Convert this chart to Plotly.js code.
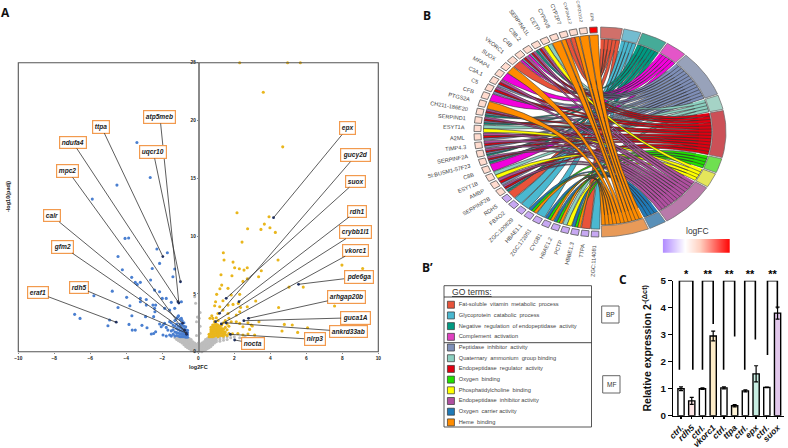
<!DOCTYPE html>
<html><head><meta charset="utf-8">
<script src="https://cdn.plot.ly/plotly-3.0.1.min.js"></script>
<style>html,body{margin:0;padding:0;background:#fff}#c{width:788px;height:448px}</style>
</head><body><div id="c"></div>
<script>
// ---------- Panel A data ----------
const bluePoints=[[-3.41,18.1],[-2.67,15.07],[-4.52,14.41],[-5.89,13.2],[-4.07,9.8],[-3.87,9.83],[-2.3,8.88],[-1.72,8.56],[-4.46,8.24],[-2.15,7.64],[-2.56,7.2],[-4.22,7.09],[-1.31,7.15],[-1.41,6.48],[-3.7,6.43],[-2.65,6.2],[-3.5,6.0],[-3.22,6.0],[-3.39,5.82],[-4.78,5.24],[-2.43,5.33],[-2.15,5.19],[-5.8,4.84],[-3.98,4.7],[-3.22,4.61],[-2.89,4.52],[-1.78,4.61],[-2.0,4.61],[-3.22,4.32],[-2.89,4.03],[-2.52,4.03],[-2.37,4.03],[-1.5,4.27],[-0.94,4.32],[-3.8,3.98],[-4.46,3.83],[-2.43,3.75],[-1.87,3.75],[-1.31,3.75],[-1.59,3.6],[-2.41,3.46],[-6.87,3.23],[-6.57,2.88],[-3.69,3.11],[-2.93,3.03],[-2.48,3.03],[-4.93,2.74],[-5.02,2.25],[-3.85,2.36],[-3.13,2.28],[-2.85,2.07],[-3.67,1.87],[-3.5,1.87],[-2.61,1.53],[-2.48,1.58],[-2.37,1.73],[-2.15,2.39],[-2.06,2.16],[-1.96,2.31],[-1.87,2.45],[-1.78,2.1],[-1.59,2.6],[-1.69,1.87],[-1.96,1.44],[-1.78,1.35],[-1.59,1.44],[-1.13,3.03],[-0.94,2.88],
[-0.6,1.25],[-0.6,1.45],[-0.6,1.65],[-0.6,1.85],[-0.7,1.25],[-0.7,1.45],[-0.7,1.65],[-0.7,1.9],[-0.7,2.15],[-0.8,1.3],[-0.8,1.5],[-0.8,1.7],[-0.8,1.95],[-0.8,2.2],[-0.8,2.5],[-0.9,1.3],[-0.9,1.5],[-0.9,1.75],[-0.9,2.0],[-0.9,2.3],[-0.9,2.7],[-1.0,1.3],[-1.0,1.55],[-1.0,1.8],[-1.0,2.1],[-1.0,2.4],[-1.0,2.8],[-1.1,1.35],[-1.1,1.6],[-1.1,1.9],[-1.1,2.2],[-1.1,3.1],[-1.2,1.4],[-1.2,1.65],[-1.2,2.0],[-1.2,2.4],[-1.2,2.9],[-1.3,1.35],[-1.3,1.7],[-1.3,2.2],[-1.3,2.7],[-1.4,1.5],[-1.4,1.9],[-1.4,2.3],[-1.5,1.35],[-1.5,1.8],[-1.5,2.5]];
const orangePoints=[[2.3,25],[4.96,25],[5.67,25],[3.61,22.45],[4.69,17.72],[2.15,12.02],[3.93,11.67],[3.67,11.04],[3.98,10.72],[2.74,10.63],[3.48,10.58],[4.28,10.32],[2.43,9.48],[1.39,8.56],[1.43,7.93],[1.93,7.75],[2.02,7.26],[2.28,7.18],[2.54,7.06],[2.72,7.26],[4.43,7.93],[7.98,7.49],[9.13,7.2],[1.26,6.66],[1.87,6.57],[3.5,7.0],[3.35,6.48],[2.72,6.31],[2.48,6.08],[1.3,5.76],[1.2,5.45],[1.65,5.48],[5.04,5.59],[5.83,5.59],[1.02,4.96],[1.83,4.9],[2.3,4.96],[3.19,4.38],[0.96,4.32],[1.37,4.41],[2.22,4.18],[1.65,4.03],[0.91,3.98],[1.93,4.09],[2.72,3.89],[4.46,3.83],[7.57,3.95],[2.35,3.83],[1.19,3.89],[2.3,3.46],[1.37,3.6],[1.65,3.31],[1.09,3.31],[0.81,2.88],[1.0,2.94],[2.11,3.17],[3.37,2.59],[1.83,2.59],[2.11,2.59],[2.3,2.45],[2.48,2.16],[2.76,2.51],[2.94,2.31],[3.0,2.22],[4.78,2.36],[5.22,2.31],[6.07,2.07],[4.65,1.79],[5.52,1.67],[2.85,1.93],[2.76,1.53],[3.13,1.44],[2.2,1.58],[2.48,1.44],
[0.6,1.3],[0.6,1.5],[0.7,1.3],[0.7,1.5],[0.7,1.7],[0.7,1.9],[0.7,2.1],[0.8,1.3],[0.8,1.5],[0.8,1.7],[0.8,1.9],[0.8,2.1],[0.8,2.3],[0.9,1.35],[0.9,1.55],[0.9,1.75],[0.9,1.95],[0.9,2.15],[0.9,2.35],[0.9,2.6],[1.0,1.4],[1.0,1.6],[1.0,1.8],[1.0,2.0],[1.0,2.2],[1.0,2.4],[1.1,1.3],[1.1,1.5],[1.1,1.7],[1.1,1.9],[1.1,2.1],[1.1,2.3],[1.1,2.7],[1.2,1.4],[1.2,1.6],[1.2,1.8],[1.2,2.0],[1.2,2.2],[1.3,1.4],[1.3,1.6],[1.3,1.8],[1.3,2.0],[1.3,2.3],[1.4,1.35],[1.4,1.55],[1.4,1.75],[1.4,1.95],[1.4,2.5],[1.5,1.5],[1.5,1.7],[1.5,2.1],[1.5,2.7],[1.6,1.4],[1.6,1.9],[1.6,2.4],[1.7,1.6],[1.7,2.2],[1.7,2.9],[0.65,2.9],[0.75,3.1],[1.9,1.55]];
const greyPoints=[[0,0],[0,0.15],[0,0.3],[0,0.45],[0,0.6],[0,0.75],[0.1,0.05],[0.1,0.2],[0.1,0.35],[0.1,0.5],[0.1,0.65],[-0.1,0.05],[-0.1,0.2],[-0.1,0.35],[-0.1,0.5],[-0.1,0.65],[0.2,0],[0.2,0.15],[0.2,0.3],[0.2,0.45],[0.2,0.6],[0.2,0.75],[-0.2,0],[-0.2,0.15],[-0.2,0.3],[-0.2,0.45],[-0.2,0.6],[-0.2,0.75],[0.3,0.1],[0.3,0.25],[0.3,0.4],[0.3,0.55],[0.3,0.7],[0.3,0.85],[-0.3,0.1],[-0.3,0.25],[-0.3,0.4],[-0.3,0.55],[-0.3,0.7],[-0.3,0.85],[0.4,0.15],[0.4,0.3],[0.4,0.45],[0.4,0.6],[0.4,0.75],[0.4,0.95],[0.4,1.05],[-0.4,0.15],[-0.4,0.3],[-0.4,0.45],[-0.4,0.6],[-0.4,0.75],[-0.4,0.95],[-0.4,1.05],[0.5,0.25],[0.5,0.4],[0.5,0.55],[0.5,0.7],[0.5,0.85],[0.5,1.0],[0.5,1.15],[-0.5,0.25],[-0.5,0.4],[-0.5,0.55],[-0.5,0.7],[-0.5,0.85],[-0.5,1.0],[-0.5,1.15],[0.6,0.35],[0.6,0.5],[0.6,0.65],[0.6,0.8],[0.6,0.95],[0.6,1.1],[-0.6,0.35],[-0.6,0.5],[-0.6,0.65],[-0.6,0.8],[-0.6,0.95],[-0.6,1.1],[0.7,0.45],[0.7,0.6],[0.7,0.75],[0.7,0.9],[0.7,1.05],[0.7,1.2],[-0.7,0.45],[-0.7,0.6],[-0.7,0.75],[-0.7,0.9],[-0.7,1.05],[-0.7,1.2],[0.8,0.6],[0.8,0.75],[0.8,0.9],[0.8,1.05],[0.8,1.2],[-0.8,0.6],[-0.8,0.75],[-0.8,0.9],[-0.8,1.05],[-0.8,1.2],[0.9,0.75],[0.9,0.9],[0.9,1.05],[0.9,1.2],[-0.9,0.75],[-0.9,0.9],[-0.9,1.05],[-0.9,1.2],[1.0,0.85],[1.0,1.0],[1.0,1.15],[-1.0,0.85],[-1.0,1.0],[-1.0,1.15],[-1.1,0.95],[-1.1,1.1],[-1.1,1.2],[-1.2,1.05],[-1.2,1.15],[-1.3,1.2],[1.2,0.9],[1.2,1.05],[1.2,1.2],[1.4,1.0],[1.4,1.2],[1.6,1.05],[1.6,1.3],[1.8,1.2],[1.8,1.45],[2.0,1.3],[2.3,1.2],[2.6,1.3],[-0.2,4.75],[-0.15,4.2],[-0.05,3.0],[0.05,2.9],[0.1,2.2],[-0.1,2.6],[0.1,3.4],[-0.1,1.4],[0.1,1.6]];
const geneLabels=["eraf1","rdh5","gfm2","calr","mpc2","ndufa4","ttpa","atp5meb","uqcr10","epx","gucy2d","suox","rdh1","crybb1l1","vkorc1","pde6ga","arhgap20b","guca1A","ankrd33ab","nlrp3","nocta"];
const labelX=[-8.91,-6.65,-7.52,-8.13,-7.24,-6.97,-5.39,-2.13,-2.5,8.28,8.76,8.76,8.81,8.76,8.76,8.9,8.24,8.76,8.35,6.46,3.03];
const labelY=[5.09,5.58,9.08,11.74,15.63,18.1,19.46,20.3,17.27,19.33,16.99,14.74,12.17,10.33,8.77,6.46,4.76,2.94,1.73,1.07,0.73];
const geneX=[-4.56,-0.67,-0.76,-0.87,-0.65,-1.13,-1.97,-1.08,-0.99,4.18,1.18,1.55,2.26,0.96,1.28,5.57,2.79,2.53,1.55,1.78,2.02];
const geneY=[2.55,1.62,1.86,2.47,1.5,4.32,8.23,4.21,6.05,11.59,3.32,4.62,4.33,2.6,2.4,5.83,2.89,2.68,2.5,1.5,1.01];
const aTicksX=[-10,-8,-6,-4,-2,0,2,4,6,8,10];
const aTicksY=[0,5,10,15,20,25];

// ---------- Panel B data ----------
const terms=["Fat-soluble  vitamin  metabolic  process","Glycoprotein  catabolic  process","Negative  regulation  of endopeptidase  activity","Complement  activation","Peptidase  inhibitor  activity","Quaternary  ammonium  group binding","Endopeptidase  regulator  activity","Oxygen  binding","Phosphatidylcholine  binding","Endopeptidase  inhibitor activity","Oxygen  carrier activity","Heme  binding"];
const genes=["ZGC:114081","TTPA","HBBE1.3","PCTP","HBAE1.2","CYGB1","ZGC:172051","HBAE1.1","ZGC:100829","FBXO2","RDH5","SERPINF2B","AMBP","ESYT1B","C8B","SI:BUSM1-57F23","SERPINF2A","TIMP4.3","A2ML","ESYT1A","SERPIND1","CH211-186E20","PTGS2A","CFB","C5","C3A.1","MFAP4","SUOX","VKORC1","C4B","C3B.2","SERPINA1L","CETP","CYP4V8","CYP2P7","CYP2AA1.2","CYP2X10.2","EPX"];
const geneLogFC=[-0.85,-0.85,-0.85,-0.85,-0.85,-0.85,-0.85,-0.85,-0.85,-0.85,-0.85,0.45,0.45,0.45,0.45,0.45,0.45,0.45,0.45,0.45,0.45,0.45,0.45,0.45,0.45,0.45,0.45,0.45,0.45,0.45,0.45,0.45,0.45,0.45,0.45,0.45,0.45,2.0];
// term indices linked to each gene, same order as genes
const geneTerms=[[1],[0],[11,7,10],[8,5],[11,7,10],[11,7,10],[1],[11,7,10],[1],[1],[0],[2,4,6,9],[4,6,9],[8,5],[3],[2,4,6,9],[2,4,6,9],[4,6,9],[4,6,9],[8,5],[2,4,6,9],[2,4,6,9],[11],[3],[4,6,9],[4,6,9],[3],[11],[0],[3,4,6,9],[3,4,6,9],[2,4,6,9],[8,5],[11],[11,0],[0,11],[11],[11]];
const colorbarLogFC=[-1,0,1,2];

// ---------- Panel C data ----------
const barLabels=["ctrl.","rdh5","ctrl.","vkorc1","ctrl.","ttpa","ctrl.","epx","ctrl.","suox"];
const barValues=[1.0,0.55,1.0,2.95,1.03,0.37,0.92,1.55,1.05,3.8];
const barErrors=[0.07,0.13,0.03,0.18,0.04,0.04,0.04,0.3,0.01,0.22];
const barStars=["*","**","**","**","**"];
const bracketFrom=[-0.15,2,3.97,5.94,8.06];
const bracketTo=[1.1,3,5,6.93,8.98];
const bracketFromLow=[1.7,1.7,1.7,1.7,2.25];
const bracketToLow=[1.7,3.4,2.93,2.82,3.95];

// ---------- style ----------
const W=788,H=448;
const hd=(a,b)=>[a/W,b/W];
const vd=(t,b)=>[1-b/H,1-t/H];
const px=x=>x/W, py=y=>1-y/H;
const SANS='"Liberation Sans",Arial,sans-serif';
const ribbonColors=["#e8533a","#4ab8d0","#009a82","#f200dc","#7f8fb8","#8cd0c0","#e00010","#22e000","#ffff00","#b050a0","#1f7ab8","#ff8c00"];
const ringColors=["#d0706a","#73bcd0","#45ab98","#e455c8","#98a2ba","#a5d3c6","#cc5057","#6fe050","#e5e55a","#b97aaa","#5a90b8","#e89a58"];
const legendColors=["#e8533a","#4ab8d0","#009a82","#e040c0","#7f8fb8","#8cd0c0","#e00010","#22e000","#ffff00","#b050a0","#1f7ab8","#ff8c00"];
const barColors=["#fff","#fde4e4","#fff","#fdecc8","#fff","#fff5d8","#fff","#c8efe3","#fff","#e2c8ec"];
const cscale=[[0,"#b28dff"],[1/3,"#ffffff"],[0.55,"#ffd0c0"],[1,"#ff0000"]];
function fcColor(v){ if(v<0) return "#c7a8f2"; if(v<1) return "#ffdccf"; return "#ff0000"; }

const traces=[],ann=[],shapes=[];
const pts=(arr,i)=>arr.map(p=>p[i]);
function mk(arr,color,size){traces.push({type:"scatter",mode:"markers",x:pts(arr,0),y:pts(arr,1),xaxis:"x",yaxis:"y",cliponaxis:false,
  marker:{color:color,size:size,line:{width:0}},hoverinfo:"skip",showlegend:false});}
mk(greyPoints,"#bdbdbd",3);
mk(bluePoints,"#4a7fd0",3.1);
mk(orangePoints,"#e9b61c",3.1);
traces.push({type:"scatter",mode:"markers",x:geneX,y:geneY,xaxis:"x",yaxis:"y",marker:{color:"#1c2f66",size:2.8},hoverinfo:"skip",showlegend:false});
geneLabels.forEach((g,i)=>ann.push({xref:"x",yref:"y",axref:"x",ayref:"y",x:geneX[i],y:geneY[i],ax:labelX[i],ay:labelY[i],
  text:"<b><i>"+g+"</i></b>",showarrow:true,arrowhead:0,arrowwidth:0.8,arrowcolor:"#333",standoff:0,
  font:{family:SANS,size:6.6,color:"#222"},bgcolor:"#fff",bordercolor:"#f29a4e",borderwidth:1.2,borderpad:1.6}));
const note=(x,y,text,font,extra)=>ann.push(Object.assign({xref:"paper",yref:"paper",x:px(x),y:py(y),xanchor:"center",yanchor:"middle",text:text,showarrow:false,font:font},extra||{}));
note(8,197,"<b>-log10(padj)</b>",{family:SANS,size:5.5,color:"#222"},{textangle:-90});
shapes.push({type:"rect",xref:"x domain",yref:"y domain",x0:0,x1:1,y0:0,y1:1,line:{color:"#555",width:1.1},layer:"above"});

// ---------- chord ----------
const deg=Math.PI/180;
const P=(a,r)=>[r*Math.sin(a*deg),r*Math.cos(a*deg)];
const termCounts=terms.map(()=>0);
geneTerms.forEach(l=>l.forEach(t=>termCounts[t]++));
const totalLinks=termCounts.reduce((a,b)=>a+b,0);
const termGap=0.7,termStart=0.3,termEnd=179.3;
const unit=(termEnd-termStart-termGap*(terms.length-1))/totalLinks;
const termAngles=[];let acc=termStart;
termCounts.forEach(c=>{termAngles.push([acc,acc+c*unit]);acc+=c*unit+termGap;});
const geneStep=4.72,geneFirst=182.3;
const rRingIn=0.893,rRibT=0.885,rRibG=0.925,rSqIn=0.945;
const termPos=termAngles.map(a=>a[1]);   // filled from the far end so ribbons do not tangle
const ribbonXY=terms.map(()=>({x:[],y:[]}));
function arc(a,b,r,o,n){for(let k=0;k<=n;k++){const p=P(a+(b-a)*k/n,r);o.x.push(p[0]);o.y.push(p[1]);}}
function bez(p0,p2,o,n){for(let k=1;k<n;k++){const t=k/n,c=(1-t)*(1-t),d=t*t;o.x.push(c*p0[0]+d*p2[0]);o.y.push(c*p0[1]+d*p2[1]);}}
genes.forEach((g,gi)=>{
  const links=geneTerms[gi],c=geneFirst+gi*geneStep,s=(geneStep-0.35)/links.length,b0=c-(geneStep-0.35)/2;
  links.forEach((t,j)=>{
    const g1=b0+j*s,g2=g1+s,a2=termPos[t];
    const a1=a2-unit;termPos[t]=a1;
    const o=ribbonXY[t];
    arc(a1,a2,rRibT,o,3);
    bez(P(a2,rRibT),P(g1,rRibG),o,18);
    arc(g1,g2,rRibG,o,2);
    bez(P(g2,rRibG),P(a1,rRibT),o,18);
    o.x.push(null);o.y.push(null);
  });
});
ribbonXY.forEach((o,t)=>traces.push({type:"scatter",mode:"lines",x:o.x,y:o.y,xaxis:"x2",yaxis:"y2",fill:"toself",fillcolor:ribbonColors[t],
  line:{color:"#333",width:0.6},hoverinfo:"skip",showlegend:false}));
termAngles.forEach((a,t)=>{const o={x:[],y:[]};arc(a[0],a[1],1,o,24);arc(a[1],a[0],rRingIn,o,24);o.x.push(o.x[0]);o.y.push(o.y[0]);
  traces.push({type:"scatter",mode:"lines",x:o.x,y:o.y,xaxis:"x2",yaxis:"y2",fill:"toself",fillcolor:ringColors[t],line:{color:"#666",width:0.7},hoverinfo:"skip",showlegend:false});});
const rxPx=126,ryPx=105;
genes.forEach((g,i)=>{const c=geneFirst+i*geneStep,h=1.75;const o={x:[],y:[]};arc(c-h,c+h,1,o,3);arc(c+h,c-h,rSqIn,o,3);o.x.push(o.x[0]);o.y.push(o.y[0]);
  traces.push({type:"scatter",mode:"lines",x:o.x,y:o.y,xaxis:"x2",yaxis:"y2",fill:"toself",fillcolor:fcColor(geneLogFC[i]),line:{color:"#555",width:0.8},hoverinfo:"skip",showlegend:false});
  const sc=Math.cos(c*deg),ss=Math.sin(c*deg);
  const ang=Math.atan2(ryPx*sc,-rxPx*ss)/deg;
  const top=sc>0.97;
  const size=top?4.2:5.6;
  const half=size*0.6;
  const p=P(c,top?1.035:1.065);
  ann.push({xref:"x2",yref:"y2",x:p[0],y:p[1],text:g,textangle:ang,showarrow:false,xanchor:"right",yanchor:sc>0?"bottom":"top",borderpad:0,
    xshift:half*Math.abs(Math.sin(ang*deg)),yshift:(sc>0?-1:1)*half*Math.abs(Math.cos(ang*deg)),
    font:{family:SANS,size:size,color:"#444"}});
});
// colour bar
traces.push({type:"heatmap",x:colorbarLogFC,y:[0,1],z:[colorbarLogFC,colorbarLogFC],xaxis:"x3",yaxis:"y3",colorscale:cscale,zmin:-1,zmax:2,zsmooth:"best",showscale:false,hoverinfo:"skip"});
note(697,231,"logFC",{family:SANS,size:8.5,color:"#333"});

// ---------- legend table ----------
const idx=terms.map((t,i)=>i);
traces.push({type:"scatter",mode:"markers",x:terms.map(()=>0.047),y:idx,xaxis:"x4",yaxis:"y4",marker:{symbol:"square",size:7,color:legendColors,line:{color:"#333",width:0.7}},hoverinfo:"skip",showlegend:false,cliponaxis:false});
traces.push({type:"scatter",mode:"text",x:terms.map(()=>0.1),y:idx,text:terms,textposition:"middle right",xaxis:"x4",yaxis:"y4",textfont:{family:SANS,size:5.7,color:"#444"},hoverinfo:"skip",showlegend:false,cliponaxis:false});
const rect=(x0,y0,x1,y1,c,w)=>shapes.push({type:"rect",xref:"paper",yref:"paper",x0:px(x0),x1:px(x1),y0:py(y0),y1:py(y1),line:{color:c,width:w}});
const hline=(x0,x1,y,c,w)=>shapes.push({type:"line",xref:"paper",yref:"paper",x0:px(x0),x1:px(x1),y0:py(y),y1:py(y),line:{color:c,width:w}});
rect(444,285.7,591.5,427,"#444",0.9);
hline(444,591.5,297,"#333",0.9);
hline(444,591.5,342.7,"#333",0.9);
ann.push({xref:"paper",yref:"paper",x:px(450),y:py(291.5),xanchor:"left",yanchor:"middle",text:"<u>GO terms:</u>",showarrow:false,font:{family:SANS,size:8.6,color:"#333"}});
rect(601.7,306,619,323,"#666",1);
rect(602.7,375.7,620,393,"#666",1);
note(610.4,314.5,"BP",{family:SANS,size:6.5,color:"#333"});
note(611.4,384.5,"MF",{family:SANS,size:6.5,color:"#333"});

// ---------- bars ----------
traces.push({type:"bar",x:barValues.map((v,i)=>i),y:barValues,xaxis:"x5",yaxis:"y5",width:0.58,
  marker:{color:barColors,line:{color:"#000",width:1.4}},
  error_y:{type:"data",array:barErrors,visible:true,color:"#000",thickness:1.2,width:2},hoverinfo:"skip",showlegend:false});
const bx=[],by=[];
bracketFrom.forEach((f,i)=>{bx.push(f,f,bracketTo[i],bracketTo[i],null);by.push(bracketFromLow[i],5,5,bracketToLow[i],null);});
traces.push({type:"scatter",mode:"lines",x:bx,y:by,xaxis:"x5",yaxis:"y5",line:{color:"#000",width:1.6},cliponaxis:false,hoverinfo:"skip",showlegend:false});
traces.push({type:"scatter",mode:"text",x:bracketFrom.map((f,i)=>(f+bracketTo[i])/2),y:barStars.map(()=>5.2),text:barStars,textposition:"middle center",xaxis:"x6",yaxis:"y6",
  textfont:{family:SANS,size:11,color:"#000",weight:"bold"},cliponaxis:false,hoverinfo:"skip",showlegend:false});

// ---------- panel letters ----------
const LET={family:'"Open Sans",sans-serif',size:12,color:"#111"};
[["A",5.5,12],["B",426.5,15.5],["B’",427,267.5],["C",623,279]].forEach(l=>note(l[1],l[2],"<b>"+l[0]+"</b>",LET));

const hidden={visible:false,fixedrange:true};
const layout={width:W,height:H,margin:{l:0,r:0,t:0,b:0},paper_bgcolor:"#fff",plot_bgcolor:"rgba(0,0,0,0)",showlegend:false,font:{family:SANS},
  xaxis:{domain:hd(18.3,378.3),range:[-10,10],tickvals:aTicksX,ticks:"outside",ticklen:1.5,tickwidth:0.7,tickcolor:"#555",showgrid:false,zeroline:false,showline:false,
    tickfont:{family:SANS,size:4.8,weight:"bold",color:"#222"},title:{text:"<b>log2FC</b>",standoff:5,font:{family:SANS,size:5.5,color:"#222"}}},
  yaxis:{domain:vd(62.7,351.7),range:[0,25],tickvals:aTicksY,anchor:"free",position:px(198.3),ticks:"outside",ticklen:1.5,tickwidth:0.7,tickcolor:"#555",showgrid:false,zeroline:false,showline:true,linecolor:"#8a8a8a",linewidth:1.6,
    tickfont:{family:SANS,size:4.8,weight:"bold",color:"#222"}},
  xaxis2:Object.assign({domain:hd(600-151.2,600+151.2),range:[-1.2,1.2],anchor:"y2"},hidden),
  yaxis2:Object.assign({domain:vd(132-126,132+126),range:[-1.2,1.2],anchor:"x2"},hidden),
  xaxis3:Object.assign({domain:hd(662.7,730),range:[-1,2],anchor:"y3"},hidden),
  yaxis3:Object.assign({domain:vd(239,252.7),range:[0,1],anchor:"x3"},hidden),
  xaxis4:Object.assign({domain:hd(444,591.5),range:[0,1],anchor:"y4"},hidden),
  yaxis4:Object.assign({domain:vd(285.7,427),range:[11.43,-1.78],anchor:"x4"},hidden),
  xaxis5:{domain:hd(673.3,784),range:[-0.72,9.6],anchor:"y5",tickvals:barLabels.map((b,i)=>i),ticktext:barLabels,tickangle:-45,ticks:"outside",ticklen:2,tickwidth:1.3,tickcolor:"#000",showline:true,linecolor:"#000",linewidth:1.5,showgrid:false,zeroline:false,
    tickfont:{family:SANS,size:8.6,color:"#111",weight:"bold",style:"italic"}},
  yaxis5:{domain:vd(280.7,415.7),range:[0,5],anchor:"x5",tickvals:[0,1,2,3,4,5],ticks:"outside",ticklen:4,tickwidth:1.3,tickcolor:"#000",showline:true,linecolor:"#000",linewidth:1.5,showgrid:false,zeroline:false,
    tickfont:{family:SANS,size:9.8,color:"#111",weight:"bold"},title:{text:"<b>Relative expression 2<sup>-(Δct)</sup></b>",standoff:6,font:{family:SANS,size:10.5,color:"#111"}}},
  xaxis6:Object.assign({domain:hd(673.3,784),range:[-0.72,9.6],anchor:"y6"},hidden),
  yaxis6:Object.assign({domain:vd(266.7,280.7),range:[5,5.52],anchor:"x6"},hidden),
  annotations:ann,shapes:shapes};
Plotly.newPlot("c",traces,layout,{displayModeBar:false,staticPlot:true});
</script></body></html>
